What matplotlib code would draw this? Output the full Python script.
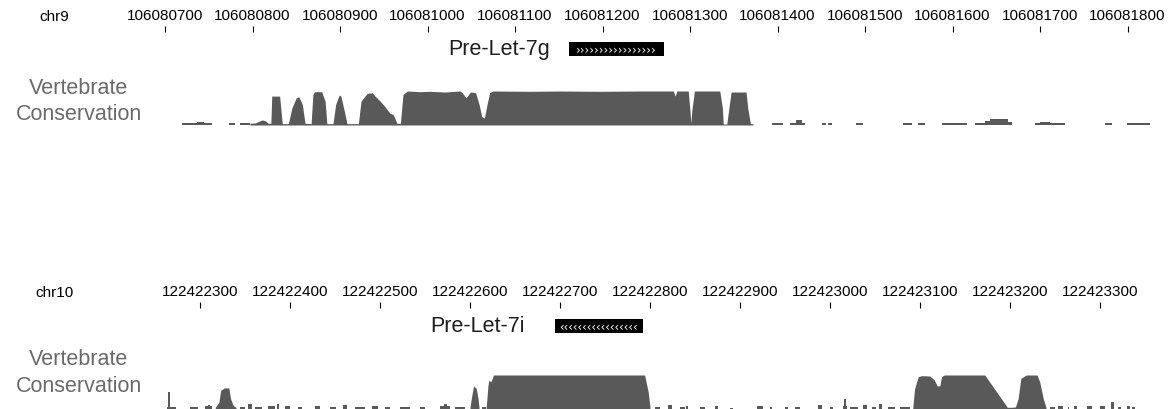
"""Two UCSC-style browser panels: ruler, pre-miRNA gene and vertebrate conservation."""
import numpy as np
import matplotlib

matplotlib.use("Agg")
import matplotlib.pyplot as plt
from matplotlib.ticker import FuncFormatter

plt.rcParams["font.family"] = ["Liberation Sans", "DejaVu Sans"]

# ---- chr9 window (Pre-Let-7g) ----
chr9_ticks = [106080700, 106080800, 106080900, 106081000, 106081100, 106081200,
              106081300, 106081400, 106081500, 106081600, 106081700, 106081800]
chr9_origin = 106080000
chr9_gene = (1162, 1270)  # offsets from origin
# conservation profile (offset, score 0..1)
chr9_prof_off = [797, 797, 803, 811, 815, 818, 821, 822, 831, 834, 841, 845, 850, 853, 857, 860,
                 867, 869, 871, 879, 883, 885, 892, 895, 899, 901, 905, 908, 921, 924, 927, 931,
                 937, 940, 946, 951, 957, 961, 965, 969, 972, 977, 991, 1003, 1020, 1037, 1039,
                 1044, 1049, 1055, 1059, 1062, 1065, 1068, 1071, 1075, 1117, 1151, 1197, 1243,
                 1281, 1283, 1285, 1298, 1300, 1301, 1302, 1305, 1334, 1337, 1338, 1342, 1345,
                 1347, 1364, 1366, 1369, 1372, 1372]
chr9_prof_val = [0, 0.05, 0.06, 0.15, 0.12, 0.05, 0.05, 0.85, 0.85, 0.04, 0.04, 0.5, 0.8, 0.83,
                 0.6, 0.05, 0.04, 0.9, 0.98, 0.98, 0.7, 0.04, 0.04, 0.6, 0.88, 0.85, 0.4, 0.04,
                 0.04, 0.7, 0.8, 0.93, 0.95, 0.85, 0.7, 0.55, 0.35, 0.3, 0.05, 0.05, 0.9, 1.0,
                 0.98, 0.99, 0.97, 1.0, 0.97, 0.8, 0.97, 0.95, 0.6, 0.25, 0.2, 0.6, 0.95, 1.0,
                 0.99, 1.0, 0.99, 1.0, 1.0, 0.85, 1.0, 1.0, 0.4, 0.05, 0.4, 1.0, 1.0, 0.5, 0.03,
                 0.03, 0.6, 0.97, 0.97, 0.5, 0.04, 0.04, 0]
# short low-score fragments (start, end, score)
chr9_blip_start = [719, 736, 744, 773, 786, 1394, 1414, 1421, 1428, 1451, 1458, 1490, 1543, 1561,
                   1588, 1626, 1637, 1643, 1663, 1694, 1700, 1711, 1774, 1799, 1809, 1820]
chr9_blip_end = [736, 744, 754, 780, 797, 1406, 1421, 1428, 1431, 1455, 1462, 1498, 1554, 1569,
                 1617, 1637, 1643, 1663, 1668, 1700, 1711, 1729, 1782, 1809, 1820, 1826]
chr9_blip_val = [0.05, 0.08, 0.05, 0.05, 0.05, 0.05, 0.06, 0.15, 0.06, 0.05, 0.05, 0.05, 0.05,
                 0.05, 0.06, 0.06, 0.12, 0.18, 0.08, 0.06, 0.09, 0.05, 0.05, 0.05, 0.07, 0.05]

# ---- chr10 window (Pre-Let-7i) ----
chr10_ticks = [122422300, 122422400, 122422500, 122422600, 122422700, 122422800,
               122422900, 122423000, 122423100, 122423200, 122423300]
chr10_origin = 122422000
chr10_gene = (694, 792)
chr10_prof_off = [317, 317, 321, 323, 327, 332, 334, 337, 340, 340,
                  600, 600, 602, 604, 607, 609, 610, 610,
                  618, 618, 620, 621, 623, 624, 626, 794, 798, 800, 800,
                  1092, 1092, 1094, 1098, 1102, 1111, 1116, 1119, 1122, 1124, 1127, 1172, 1197,
                  1202, 1206, 1209, 1212, 1218, 1230, 1233, 1237, 1240, 1240]
chr10_prof_val = [0, 0.05, 0.2, 0.55, 0.62, 0.62, 0.3, 0.1, 0.05, 0,
                  0, 0.05, 0.4, 0.68, 0.6, 0.3, 0.05, 0,
                  0, 0.05, 0.7, 0.85, 0.8, 0.85, 1.0, 1.0, 0.5, 0.05, 0,
                  0, 0.05, 0.6, 0.95, 0.98, 0.97, 0.85, 0.68, 0.68, 0.95, 1.0, 1.0, 0.05,
                  0.05, 0.06, 0.3, 0.9, 1.0, 1.0, 0.8, 0.3, 0.05, 0]
chr10_blip_start = [263, 264, 289, 306, 309, 344, 353, 361, 376, 386, 394, 409, 428, 444, 459,
                    472, 491, 506, 522, 544, 567, 571, 583, 613, 806, 820, 833, 840, 856, 872,
                    889, 919, 933, 950, 961, 987, 1000, 1014, 1016, 1022, 1037, 1047, 1054,
                    1064, 1078, 1244, 1253, 1264, 1271, 1286, 1300, 1312, 1320, 1330, 1336]
chr10_blip_end = [273, 267, 298, 313, 311, 350, 358, 369, 383, 388, 400, 413, 433, 451, 463,
                  483, 498, 511, 533, 550, 578, 574, 594, 618, 811, 824, 839, 842, 861, 876,
                  892, 926, 936, 953, 967, 991, 1003, 1019, 1018, 1031, 1041, 1051, 1058,
                  1072, 1089, 1250, 1259, 1266, 1274, 1291, 1306, 1316, 1323, 1333, 1339]
chr10_blip_val = [0.06, 0.5, 0.05, 0.08, 0.13, 0.05, 0.15, 0.06, 0.1, 0.15, 0.08, 0.06, 0.1,
                  0.06, 0.12, 0.06, 0.1, 0.05, 0.06, 0.05, 0.08, 0.15, 0.06, 0.05, 0.05, 0.12,
                  0.05, 0.1, 0.05, 0.1, 0.04, 0.1, 0.05, 0.05, 0.06, 0.12, 0.06, 0.1, 0.3,
                  0.06, 0.12, 0.05, 0.15, 0.06, 0.06, 0.05, 0.1, 0.05, 0.1, 0.1, 0.1, 0.2,
                  0.05, 0.08, 0.05]

W, H = 1168, 410
CONS = "#595959"
fig = plt.figure(figsize=(W / 100, H / 100), dpi=100)


def box(x0, y0, x1, y1):
    """Axes placed by pixel box (y measured from the top)."""
    return fig.add_axes([x0 / W, 1 - y1 / H, (x1 - x0) / W, (y1 - y0) / H])


def draw_panel(chrom, ticks, origin, gene, name, arrow, name_gap, prof_off, prof_val,
               b_start, b_end, b_val, tick_px, px_per_bp, y_ruler, y_gene, y_track, y_label):
    left = ticks[0] - tick_px / px_per_bp
    xlim = (left, left + W / px_per_bp)

    # ruler: ticks pointing up, coordinates above
    ax = box(0, y_ruler, W, y_ruler + 2)
    ax.set_xlim(xlim)
    ax.set_xticks(ticks)
    ax.xaxis.set_major_formatter(FuncFormatter(lambda v, _: f"{v:.0f}"))
    ax.xaxis.tick_top()
    ax.tick_params(axis="x", direction="out", length=4.3, width=0.8, pad=3, labelsize=11)
    ax.set_yticks([])
    for s in ax.spines.values():
        s.set_visible(False)
    ax.patch.set_alpha(0)
    fig.text(54 / W, 1 - (y_ruler - 16) / H, chrom, ha="center", va="center", fontsize=11)

    # gene: black box with strand chevrons
    ax = box(0, y_gene, W, y_gene + 14)
    ax.set_xlim(xlim)
    ax.set_ylim(0, 1)
    g0, g1 = origin + gene[0], origin + gene[1]
    ax.axvspan(g0, g1, color="black", lw=0)
    ax.text((g0 + g1) / 2, 0.5, arrow * 17, color="white", fontsize=8.5,
            ha="center", va="center", family="DejaVu Sans")
    ax.annotate(name, xy=(g0, 0.5), xytext=(-name_gap, 0), textcoords="offset pixels",
                ha="right", va="center", fontsize=15.5, color="#1e1e1e")
    ax.axis("off")

    # conservation track
    ax = box(0, y_track, W, y_track + 34)
    ax.set_xlim(xlim)
    ax.set_ylim(0, 1)
    pos = origin + np.array(prof_off)
    ax.fill_between(pos, prof_val, color=CONS, lw=0)
    bs = origin + np.array(b_start)
    ax.bar(bs, b_val, width=np.array(b_end) - np.array(b_start), align="edge",
           color=CONS, lw=0)
    ax.axis("off")

    fig.text(79 / W, 1 - y_label / H, "Vertebrate", ha="center", va="center",
             fontsize=15.5, color="#6a6a6a")
    fig.text(79 / W, 1 - (y_label + 27) / H, "Conservation", ha="center", va="center",
             fontsize=15.5, color="#6a6a6a")


draw_panel("chr9", chr9_ticks, chr9_origin, chr9_gene, "Pre-Let-7g", "›", 19,
           chr9_prof_off, chr9_prof_val, chr9_blip_start, chr9_blip_end, chr9_blip_val,
           tick_px=165, px_per_bp=0.875, y_ruler=33, y_gene=43, y_track=92, y_label=88)
draw_panel("chr10", chr10_ticks, chr10_origin, chr10_gene, "Pre-Let-7i", "‹", 30,
           chr10_prof_off, chr10_prof_val, chr10_blip_start, chr10_blip_end, chr10_blip_val,
           tick_px=200, px_per_bp=0.9, y_ruler=309, y_gene=320, y_track=376, y_label=360)

fig.savefig("out.png", dpi=100)
